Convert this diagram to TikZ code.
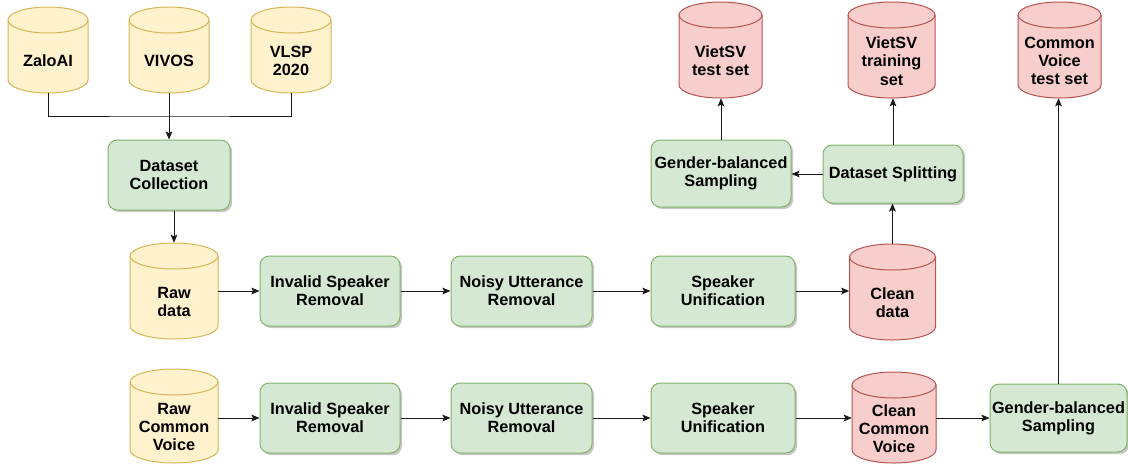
\documentclass[tikz,border=0pt]{standalone}
\usepackage{fontspec}
\setmainfont{Liberation Sans}
\usetikzlibrary{arrows.meta,shadows}
\definecolor{yfill}{HTML}{FFF2CC}
\definecolor{ydraw}{HTML}{D6B656}
\definecolor{gfill}{HTML}{D5E8D4}
\definecolor{gdraw}{HTML}{82B366}
\definecolor{rfill}{HTML}{F8CECC}
\definecolor{rdraw}{HTML}{B85450}
\tikzset{
  lbl/.style={font=\bfseries\fontsize{12.2}{13.7}\selectfont, align=center, inner sep=0pt},
  ycyl/.style={fill=yfill, draw=ydraw, line width=0.75pt},
  rcyl/.style={fill=rfill, draw=rdraw, line width=0.75pt},
  proc/.style={lbl, fill=gfill, draw=gdraw, line width=0.75pt, rounded corners=7pt,
    drop shadow={shadow xshift=1.6pt, shadow yshift=-1.6pt, opacity=0.22, fill=black}},
  wd/.style={minimum width=#1*0.75pt},
  ht/.style={minimum height=#1*0.75pt},
  conn/.style={line width=0.75pt, draw=black!90},
  arr/.style={conn, -{Stealth[length=6pt, width=5pt, inset=1.2pt]}},
}
% name, cx, top, width, height, style, text
\newcommand\dbcyl[7]{%
  \path[#6] (#2-#4/2, -#3-13) -- (#2-#4/2, -#3-#5+13)
     arc[start angle=180, end angle=360, x radius=#4/2, y radius=13]
     -- (#2+#4/2, -#3-13)
     arc[start angle=0, end angle=180, x radius=#4/2, y radius=13] -- cycle;
  \path[#6, fill=none] (#2-#4/2, -#3-13)
     arc[start angle=180, end angle=360, x radius=#4/2, y radius=13];
  \node[inner sep=0pt, minimum width=#4*0.75pt, minimum height=#5*0.75pt,
        label={[lbl, yshift=-11*0.75pt]center:{#7}}] (#1) at (#2, -#3-#5/2) {};
}
\begin{document}
\begin{tikzpicture}[x=0.75pt, y=0.75pt]
\useasboundingbox (0,0) rectangle (1128,-465);
% top sources
\dbcyl{zalo}{48}{7}{80}{86}{ycyl}{ZaloAI}
\dbcyl{vivos}{169}{7}{80}{86}{ycyl}{VIVOS}
\dbcyl{vlsp}{291}{7}{80}{86}{ycyl}{VLSP\\2020}
% outputs
\dbcyl{vtest}{720.5}{2}{83}{96}{rcyl}{VietSV\\test set}
\dbcyl{vtrain}{891.5}{2}{87}{96}{rcyl}{VietSV\\training\\set}
\dbcyl{cvtest}{1059.5}{2}{83}{96}{rcyl}{Common\\Voice\\test set}
% data
\dbcyl{raw}{174}{243}{88}{96}{ycyl}{Raw\\data}
\dbcyl{clean}{892.5}{244}{86}{96}{rcyl}{Clean\\data}
\dbcyl{rawcv}{174}{369}{88}{94}{ycyl}{Raw\\Common\\Voice}
\dbcyl{cleancv}{894}{372}{84}{91}{rcyl}{Clean\\Common\\Voice}
% processes
\node[proc, wd=122, ht=70] (dc) at (169,-175) {Dataset\\Collection};
\node[proc, wd=140, ht=70] (isr1) at (330,-291) {Invalid Speaker\\Removal};
\node[proc, wd=141, ht=70] (nur1) at (521.5,-291) {Noisy Utterance\\Removal};
\node[proc, wd=144, ht=70] (su1) at (723,-291) {Speaker\\Unification};
\node[proc, wd=140, ht=70] (isr2) at (330,-418) {Invalid Speaker\\Removal};
\node[proc, wd=141, ht=70] (nur2) at (521.5,-418) {Noisy Utterance\\Removal};
\node[proc, wd=144, ht=70] (su2) at (723,-418) {Speaker\\Unification};
\node[proc, wd=140, ht=58] (ds) at (893,-174) {Dataset Splitting};
\node[proc, wd=140, ht=67] (gbs1) at (721,-173.5) {Gender-balanced\\Sampling};
\node[proc, wd=137, ht=68] (gbs2) at (1058.5,-418) {Gender-balanced\\Sampling};
% connectors
\coordinate (j) at (169,-116);
\draw[conn] (zalo.south) |- (j) -| (vlsp.south);
\draw[arr] (vivos.south) -- (dc.north);
\draw[arr] (dc.south -| raw.north) -- (raw.north);
\draw[arr] (raw.east) -- (isr1.west);
\draw[arr] (isr1) -- (nur1);
\draw[arr] (nur1) -- (su1);
\draw[arr] (su1.east) -- (clean.west |- su1.east);
\draw[arr] (clean.north) -- (clean.north |- ds.south);
\draw[arr] (ds.west) -- (gbs1.east |- ds.west);
\draw[arr] (gbs1.north) -- (gbs1.north |- vtest.south);
\draw[arr] (ds.north) -- (ds.north |- vtrain.south);
\draw[arr] (rawcv.east |- isr2.west) -- (isr2.west);
\draw[arr] (isr2) -- (nur2);
\draw[arr] (nur2) -- (su2);
\draw[arr] (su2.east) -- (cleancv.west |- su2.east);
\draw[arr] (cleancv.east |- gbs2.west) -- (gbs2.west);
\draw[arr] (gbs2.north) -- (gbs2.north |- cvtest.south);
\end{tikzpicture}
\end{document}
